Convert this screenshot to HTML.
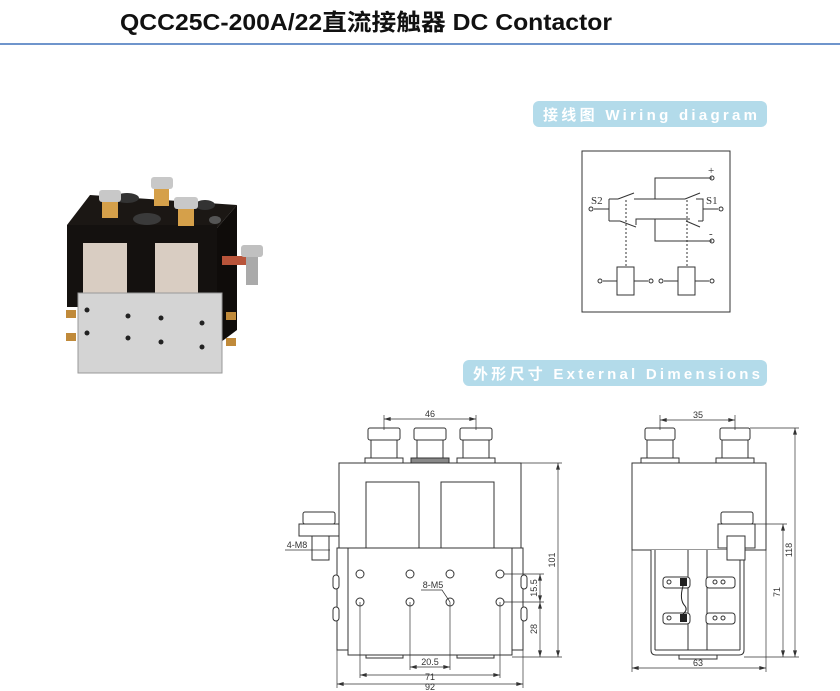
<!DOCTYPE html>
<html><head><meta charset="utf-8"><style>
html,body{margin:0;padding:0;background:#fff;}
svg{display:block;}
</style></head><body>
<svg width="840" height="691" viewBox="0 0 840 691" xmlns="http://www.w3.org/2000/svg" font-family="Liberation Sans, sans-serif">
<defs>
<marker id="ae" viewBox="0 0 10 6" refX="10" refY="3" markerWidth="7" markerHeight="4" orient="auto" markerUnits="userSpaceOnUse"><path d="M0,0 L10,3 L0,6 z" fill="#333"/></marker>
<marker id="as" viewBox="0 0 10 6" refX="0" refY="3" markerWidth="7" markerHeight="4" orient="auto" markerUnits="userSpaceOnUse"><path d="M10,0 L0,3 L10,6 z" fill="#333"/></marker>
</defs>
<rect width="840" height="691" fill="#fff"/>
<text x="120" y="30" font-size="23" font-weight="bold" fill="#111" font-family="Liberation Sans, 'Noto Sans CJK SC', sans-serif" textLength="492" lengthAdjust="spacingAndGlyphs">QCC25C-200A/22直流接触器 DC Contactor</text>
<rect x="0" y="43" width="840" height="2" fill="#6f95cc"/>

<rect x="533" y="101" width="234" height="26" rx="6" fill="#b3dbea"/>
<text x="543" y="120" font-size="15" font-weight="bold" fill="#fff" font-family="Liberation Sans, 'Noto Sans CJK SC', sans-serif" textLength="214" lengthAdjust="spacing">接线图 Wiring diagram</text>
<rect x="463" y="360" width="304" height="26" rx="6" fill="#b3dbea"/>
<text x="473" y="379" font-size="15" font-weight="bold" fill="#fff" font-family="Liberation Sans, 'Noto Sans CJK SC', sans-serif" textLength="287" lengthAdjust="spacing">外形尺寸 External Dimensions</text>

<g stroke="#333" stroke-width="1" fill="none">
<rect x="582" y="151" width="148" height="161"/>
<polyline points="712,178 655,178 655,199"/>
<polyline points="655,219 655,241 712,241"/>
<line x1="594" y1="209" x2="609" y2="209"/>
<line x1="609" y1="199" x2="609" y2="221"/>
<line x1="609" y1="199" x2="618" y2="199"/>
<line x1="618" y1="199" x2="634" y2="193"/>
<line x1="634" y1="199" x2="685" y2="199"/>
<line x1="685" y1="199" x2="700" y2="193"/>
<polyline points="696,199 703,199 703,221"/>
<line x1="703" y1="209" x2="718" y2="209"/>
<line x1="609" y1="221" x2="620" y2="221"/>
<line x1="620" y1="221" x2="636" y2="227"/>
<polyline points="636,225 636,219 690,219"/>
<line x1="686" y1="221" x2="700" y2="227"/>
<polyline points="698,221 703,221"/>
<line x1="626" y1="200" x2="626" y2="267" stroke-dasharray="2,2"/>
<line x1="687" y1="200" x2="687" y2="267" stroke-dasharray="2,2"/>
<rect x="617" y="267" width="17" height="28"/>
<rect x="678" y="267" width="17" height="28"/>
<line x1="603" y1="281" x2="617" y2="281"/><line x1="634" y1="281" x2="648" y2="281"/>
<line x1="664" y1="281" x2="678" y2="281"/><line x1="695" y1="281" x2="709" y2="281"/>
<circle cx="712" cy="178" r="2"/><circle cx="712" cy="241" r="2"/>
<circle cx="591" cy="209" r="2"/><circle cx="721" cy="209" r="2"/>
<circle cx="600" cy="281" r="2"/><circle cx="651" cy="281" r="2"/>
<circle cx="661" cy="281" r="2"/><circle cx="712" cy="281" r="2"/>
</g>
<g font-family="Liberation Serif, serif" font-size="11" fill="#333">
<text x="591" y="204">S2</text><text x="706" y="204">S1</text>
<text x="708" y="174">+</text><text x="709" y="237">-</text>
</g>

<g>
<polygon points="67,225 90,195 237,205 217,228" fill="#1b1714"/>
<polygon points="217,228 237,205 237,330 217,345" fill="#0f0c0a"/>
<rect x="67" y="225" width="150" height="82" fill="#14110f"/>
<rect x="83" y="243" width="44" height="50" fill="#d9cdc2"/>
<rect x="155" y="243" width="43" height="50" fill="#d9cdc2"/>
<ellipse cx="127" cy="198" rx="12" ry="5" fill="#333"/>
<ellipse cx="147" cy="219" rx="14" ry="6" fill="#3a3a3a"/>
<ellipse cx="205" cy="205" rx="10" ry="5" fill="#333"/>
<ellipse cx="215" cy="220" rx="6" ry="4" fill="#555"/>
<rect x="102" y="200" width="16" height="18" fill="#d5a04a"/>
<rect x="99" y="190" width="22" height="12" rx="3" fill="#c8c8c8"/>
<rect x="154" y="188" width="15" height="18" fill="#d5a04a"/>
<rect x="151" y="177" width="22" height="12" rx="3" fill="#c8c8c8"/>
<rect x="178" y="206" width="16" height="20" fill="#d5a04a"/>
<rect x="174" y="197" width="24" height="12" rx="3" fill="#c8c8c8"/>
<rect x="222" y="256" width="30" height="9" fill="#b8543a"/>
<rect x="241" y="245" width="22" height="12" rx="3" fill="#c0c0c0"/>
<rect x="246" y="257" width="12" height="28" fill="#aaa"/>
<rect x="78" y="293" width="144" height="80" fill="#d4d4d4"/>
<rect x="78" y="293" width="144" height="80" fill="none" stroke="#999"/>
<rect x="66" y="310" width="10" height="8" fill="#c08a3a"/>
<rect x="66" y="333" width="10" height="8" fill="#c08a3a"/>
<rect x="226" y="312" width="10" height="8" fill="#c08a3a"/>
<rect x="226" y="338" width="10" height="8" fill="#c08a3a"/>
<g fill="#222"><circle cx="87" cy="310" r="2.5"/><circle cx="128" cy="316" r="2.5"/><circle cx="161" cy="318" r="2.5"/><circle cx="202" cy="323" r="2.5"/>
<circle cx="87" cy="333" r="2.5"/><circle cx="128" cy="338" r="2.5"/><circle cx="161" cy="342" r="2.5"/><circle cx="202" cy="347" r="2.5"/></g>
</g>

<g stroke="#333" stroke-width="1" fill="#fff">
<rect x="339" y="463" width="182" height="85"/>
<rect x="366" y="482" width="53" height="66"/>
<rect x="441" y="482" width="53" height="66"/>
<rect x="337" y="548" width="186" height="102"/>
<rect x="348" y="548" width="164" height="107"/>
<rect x="366" y="655" width="37" height="3"/><rect x="457" y="655" width="37" height="3"/>
<rect x="333" y="575" width="6" height="14" rx="3"/><rect x="333" y="607" width="6" height="14" rx="3"/>
<rect x="521" y="575" width="6" height="14" rx="3"/><rect x="521" y="607" width="6" height="14" rx="3"/>
<rect x="365" y="458" width="38" height="5"/><rect x="371" y="440" width="26" height="18"/><rect x="368" y="428" width="32" height="12" rx="2"/>
<rect x="411" y="458" width="38" height="5" fill="#888"/><rect x="417" y="440" width="26" height="18"/><rect x="414" y="428" width="32" height="12" rx="2"/>
<rect x="457" y="458" width="38" height="5"/><rect x="463" y="440" width="26" height="18"/><rect x="460" y="428" width="32" height="12" rx="2"/>
<rect x="303" y="512" width="32" height="12" rx="2"/><rect x="299" y="524" width="40" height="12"/><rect x="312" y="536" width="17" height="24"/>
<circle cx="360" cy="574" r="4"/><circle cx="410" cy="574" r="4"/><circle cx="450" cy="574" r="4"/><circle cx="500" cy="574" r="4"/>
<circle cx="360" cy="602" r="4"/><circle cx="410" cy="602" r="4"/><circle cx="450" cy="602" r="4"/><circle cx="500" cy="602" r="4"/>
</g>
<g stroke="#333" stroke-width="0.7" fill="none">
<line x1="384" y1="415" x2="384" y2="430"/><line x1="476" y1="415" x2="476" y2="430"/>
<line x1="521" y1="463" x2="562" y2="463"/><line x1="512" y1="657" x2="562" y2="657"/>
<line x1="504" y1="574" x2="544" y2="574"/><line x1="504" y1="602" x2="544" y2="602"/>
<line x1="337" y1="650" x2="337" y2="688"/><line x1="523" y1="650" x2="523" y2="688"/>
<line x1="360" y1="602" x2="360" y2="678"/><line x1="500" y1="602" x2="500" y2="678"/>
<line x1="410" y1="602" x2="410" y2="670"/><line x1="450" y1="602" x2="450" y2="670"/>
<line x1="285" y1="550" x2="330" y2="550"/>
<polyline points="421,590 442,590 450,602"/>
</g>
<g stroke="#333" stroke-width="0.7" fill="none" marker-start="url(#as)" marker-end="url(#ae)">
<line x1="384" y1="419" x2="476" y2="419"/>
<line x1="558" y1="463" x2="558" y2="657"/>
<line x1="540" y1="574" x2="540" y2="602"/>
<line x1="540" y1="602" x2="540" y2="657"/>
<line x1="337" y1="684" x2="523" y2="684"/>
<line x1="360" y1="675" x2="500" y2="675"/>
<line x1="410" y1="667" x2="450" y2="667"/>
</g>
<g font-size="9" fill="#333" text-anchor="middle">
<text x="430" y="417">46</text><text x="430" y="665">20.5</text><text x="430" y="680">71</text>
<text x="297" y="548">4-M8</text><text x="433" y="588">8-M5</text>
<text transform="translate(555,560) rotate(-90)">101</text>
<text transform="translate(537,588) rotate(-90)">15.5</text>
<text transform="translate(537,629) rotate(-90)">28</text>
</g>
<text x="430" y="690" font-size="9" fill="#333" text-anchor="middle">92</text>

<g stroke="#333" stroke-width="1" fill="#fff">
<rect x="632" y="463" width="134" height="87"/>
<path d="M651,550 V650 Q651,655 656,655 H739 Q744,655 744,650 V550"/>
<line x1="655" y1="550" x2="655" y2="650"/><line x1="688" y1="550" x2="688" y2="650"/>
<line x1="707" y1="550" x2="707" y2="650"/><line x1="740" y1="550" x2="740" y2="650"/>
<line x1="655" y1="650" x2="740" y2="650"/>
<rect x="679" y="655" width="38" height="4"/>
<rect x="641" y="458" width="38" height="5"/><rect x="647" y="440" width="26" height="18"/><rect x="645" y="428" width="30" height="12" rx="2"/>
<rect x="716" y="458" width="38" height="5"/><rect x="722" y="440" width="26" height="18"/><rect x="720" y="428" width="30" height="12" rx="2"/>
<rect x="721" y="512" width="32" height="12" rx="2"/><rect x="718" y="524" width="37" height="24"/><rect x="727" y="536" width="18" height="24"/>
<rect x="663" y="577" width="27" height="11" rx="3"/><rect x="706" y="577" width="29" height="11" rx="3"/>
<rect x="663" y="613" width="27" height="11" rx="3"/><rect x="706" y="613" width="29" height="11" rx="3"/>
<circle cx="669" cy="582" r="2"/><circle cx="715" cy="582" r="2"/><circle cx="723" cy="582" r="2"/>
<circle cx="669" cy="618" r="2"/><circle cx="715" cy="618" r="2"/><circle cx="723" cy="618" r="2"/>
</g>
<rect x="680" y="578" width="7" height="8" fill="#222"/><rect x="680" y="614" width="7" height="8" fill="#222"/>
<path d="M683,586 Q679,600 685,606 Q688,610 683,614" stroke="#222" fill="none"/>
<g stroke="#333" stroke-width="0.7" fill="none">
<line x1="660" y1="415" x2="660" y2="430"/><line x1="735" y1="415" x2="735" y2="430"/>
<line x1="750" y1="428" x2="799" y2="428"/><line x1="744" y1="657" x2="799" y2="657"/>
<line x1="755" y1="524" x2="787" y2="524"/>
<line x1="632" y1="550" x2="632" y2="672"/><line x1="766" y1="550" x2="766" y2="672"/>
</g>
<g stroke="#333" stroke-width="0.7" fill="none" marker-start="url(#as)" marker-end="url(#ae)">
<line x1="660" y1="420" x2="735" y2="420"/>
<line x1="795" y1="428" x2="795" y2="657"/>
<line x1="783" y1="524" x2="783" y2="657"/>
<line x1="632" y1="668" x2="766" y2="668"/>
</g>
<g font-size="9" fill="#333" text-anchor="middle">
<text x="698" y="418">35</text><text x="698" y="666">63</text>
<text transform="translate(792,550) rotate(-90)">118</text>
<text transform="translate(780,592) rotate(-90)">71</text>
</g>
</svg>
</body></html>
